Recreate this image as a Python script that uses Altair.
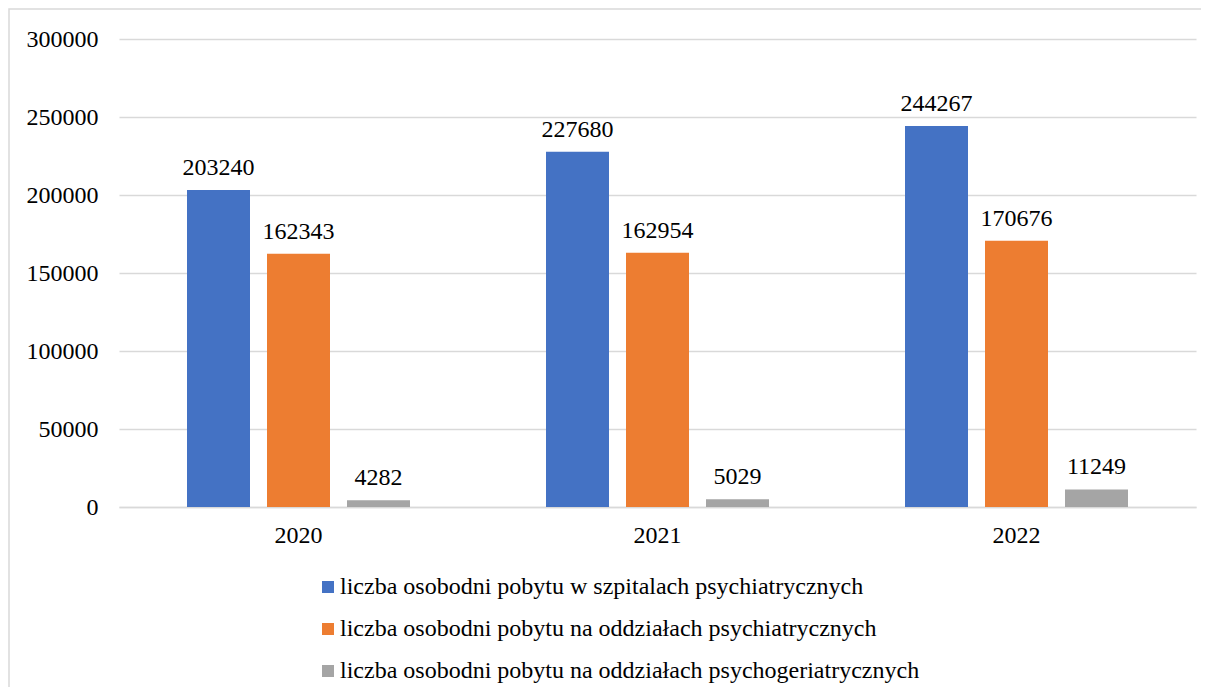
import altair as alt
import pandas as pd

years = ["2020", "2021", "2022"]
series = [
    "liczba osobodni pobytu w szpitalach psychiatrycznych",
    "liczba osobodni pobytu na oddziałach psychiatrycznych",
    "liczba osobodni pobytu na oddziałach psychogeriatrycznych",
]
szpitale = [203240, 227680, 244267]
oddzialy = [162343, 162954, 170676]
psychogeriatria = [4282, 5029, 11249]
colors = ["#4472C4", "#ED7D31", "#A5A5A5"]
y_ticks = [0, 50000, 100000, 150000, 200000, 250000, 300000]

rows = []
for i, yr in enumerate(years):
    for s, vals in zip(series, [szpitale, oddzialy, psychogeriatria]):
        rows.append({"rok": yr, "seria": s, "wartosc": vals[i]})
df = pd.DataFrame(rows)

FONT = "'Times New Roman', 'Liberation Serif', 'DejaVu Serif', serif"
FS = 24
GRID = "#d9d9d9"
W, H = 1077, 468

x = alt.X(
    "rok:N",
    sort=years,
    scale=alt.Scale(paddingInner=0, paddingOuter=0),
    axis=alt.Axis(
        title=None, labelAngle=0, ticks=False, grid=False,
        domainColor=GRID, domainWidth=1.5, labelPadding=16,
        labelFontSize=FS, labelFont=FONT, labelColor="black",
    ),
)
xo = alt.XOffset(
    "seria:N", sort=series,
    scale=alt.Scale(paddingInner=0.2125, paddingOuter=0.85),
)
y = alt.Y(
    "wartosc:Q",
    scale=alt.Scale(domain=[0, 300000]),
    axis=alt.Axis(
        title=None, values=y_ticks, domain=False, ticks=False,
        labelPadding=21, gridColor=GRID, gridWidth=1.5,
        labelFontSize=FS, labelFont=FONT, labelColor="black", format="d",
    ),
)
color = alt.Color(
    "seria:N", sort=series,
    scale=alt.Scale(domain=series, range=colors),
    legend=alt.Legend(
        title=None, orient="none", legendX=197, legendY=536,
        direction="vertical", symbolType="square", symbolSize=144,
        symbolStrokeWidth=0, labelFontSize=FS, labelFont=FONT,
        labelColor="black", labelLimit=0, rowPadding=18, labelOffset=0,
    ),
)

bars = alt.Chart(df).mark_bar().encode(x=x, xOffset=xo, y=y, color=color)
labels = alt.Chart(df).mark_text(
    baseline="bottom", dy=-10, font=FONT, fontSize=FS, color="black"
).encode(x=x, xOffset=xo, y=y, text=alt.Text("wartosc:Q", format="d"))

frame = alt.Chart(pd.DataFrame({"a": [0]})).mark_rect(
    fill="transparent", stroke=GRID, strokeWidth=1.5
).encode(
    x=alt.value(-110), x2=alt.value(W + 30),
    y=alt.value(-30), y2=alt.value(H + 300),
)

chart = (
    alt.layer(frame, bars, labels)
    .properties(
        width=W, height=H,
        autosize=alt.AutoSizeParams(type="none"),
        padding={"left": 111, "top": 31, "right": 5, "bottom": 180},
        background="white",
    )
    .configure(font=FONT)
    .configure_view(strokeWidth=0)
)

chart.save("out.html", embed_options={"renderer": "svg", "actions": False})
